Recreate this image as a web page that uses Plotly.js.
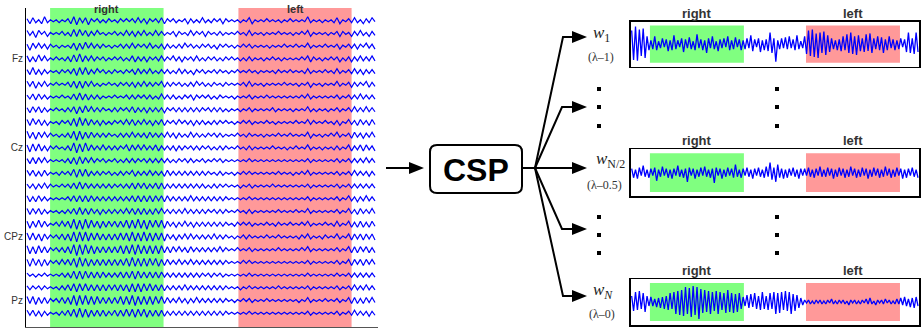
<!DOCTYPE html>
<html>
<head>
<meta charset="utf-8">
<script src="https://cdn.plot.ly/plotly-3.0.1.min.js"></script>
<style>html,body{margin:0;padding:0;background:#fff;}#chart{width:924px;height:330px;}</style>
</head>
<body>
<div id="chart"></div>
<script>
// ---------- DATA ----------
// Left panel: 24 EEG channels (samples, amplitude in µV-like units), top to bottom
const ch01=[2,-3,3,-2,1,-3,4,-2,1,-1,1,-2,1,-1,2,-3,4,-4,3,-2,3,-4,2,-1,2,-2,1,-2,2,-1,1,-2,2,-1,2,-1,2,-2,3,-2,2,-3,2,-1,2,-2,3,-3,2,-1,2,-2,1,-1,2,-3,2,-2,1,-2,3,-2,1,-2,2,-1,2,-3,2,-1,1,-1,1,-2,1,-1,3,-3,1,-1,1,-1,2,-1,1,-1,1,-2,1,-1,2,-1,1,-1,1,-1,4,-2,1,-1,1,-2,1,-1,1,-2,3,-3,1,-1,2,-2,3,-2,1,-3,2,-2,3,-1];
const ch02=[3,-2,2,-4,3,-1,2,-3,1,-1,1,-1,2,-2,1,-3,4,-3,4,-2,3,-3,2,-2,3,-1,1,-2,1,-1,2,-2,1,-2,3,-2,2,-3,2,-2,3,-2,1,-2,3,-2,2,-2,1,-1,2,-3,2,-1,1,-2,3,-2,2,-1,2,-3,2,-1,1,-2,2,-2,1,-1,1,-1,2,-1,1,-2,3,-2,1,-1,1,-2,1,-1,1,-1,2,-1,1,-1,1,-2,1,-1,2,-1,3,-3,1,-1,1,-1,1,-2,1,-1,2,-3,2,-1,1,-3,2,-2,3,-2,1,-3,2,-2];
const ch03=[2,-4,3,-2,3,-2,2,-3,2,-1,1,-2,1,-1,1,-2,3,-4,3,-3,4,-2,3,-2,2,-2,2,-1,1,-2,1,-1,2,-2,2,-2,3,-2,2,-1,2,-2,3,-2,1,-2,2,-3,2,-2,1,-2,2,-2,3,-1,2,-2,1,-2,2,-1,2,-2,1,-3,2,-1,2,-1,1,-2,1,-1,2,-1,2,-2,1,-1,1,-1,1,-2,1,-1,1,-1,2,-1,1,-1,2,-1,1,-1,3,-2,1,-1,1,-1,2,-1,1,-1,2,-3,1,-1,2,-2,2,-3,2,-1,3,-2,2,-3];
const ch04=[3,-3,2,-3,4,-2,3,-2,1,-1,2,-1,1,-2,2,-3,4,-3,5,-3,3,-2,3,-2,2,-1,2,-2,1,-1,2,-1,2,-2,1,-2,3,-3,2,-2,2,-3,2,-1,2,-2,3,-2,2,-1,3,-2,2,-3,2,-1,2,-2,3,-2,1,-2,2,-1,2,-2,1,-2,2,-1,2,-1,1,-2,1,-2,2,-2,1,-1,1,-2,1,-1,2,-1,1,-2,1,-1,1,-1,1,-1,2,-1,3,-3,2,-1,1,-2,1,-1,2,-1,2,-3,1,-2,2,-3,2,-2,3,-2,2,-2,3,-2];
const ch05=[2,-3,4,-3,2,-3,2,-2,1,-1,1,-2,2,-1,2,-2,3,-4,4,-3,4,-3,2,-2,3,-1,2,-2,1,-2,2,-1,1,-2,2,-1,2,-3,3,-2,2,-2,3,-2,1,-2,2,-2,2,-2,1,-2,3,-2,2,-2,1,-3,2,-1,2,-2,1,-1,2,-2,2,-1,1,-2,1,-1,2,-1,1,-1,2,-1,1,-2,1,-1,1,-1,1,-2,2,-1,1,-1,2,-1,1,-1,1,-2,3,-2,1,-1,1,-1,2,-1,1,-2,3,-2,1,-1,2,-2,3,-2,2,-3,2,-2,2,-2];
const ch06=[3,-2,3,-4,2,-2,3,-2,1,-1,2,-1,1,-1,2,-3,3,-4,3,-4,3,-2,3,-2,1,-2,1,-1,2,-1,1,-2,2,-1,2,-2,2,-3,2,-2,3,-2,2,-2,2,-1,3,-3,2,-2,2,-1,2,-2,1,-2,2,-2,3,-1,2,-2,1,-2,2,-1,1,-2,2,-1,1,-1,1,-1,2,-2,3,-2,1,-1,1,-2,1,-1,1,-1,1,-1,2,-1,1,-1,1,-2,1,-1,2,-3,1,-1,1,-2,1,-1,1,-1,3,-2,1,-1,2,-3,2,-2,2,-1,3,-3,2,-2];
const ch07=[2,-2,3,-3,3,-2,2,-2,1,-1,1,-1,2,-1,1,-2,3,-3,4,-3,3,-3,2,-2,2,-2,1,-1,1,-1,2,-1,1,-1,2,-2,2,-2,2,-1,2,-2,2,-2,1,-2,3,-2,2,-2,2,-2,1,-2,2,-1,2,-3,2,-1,2,-1,2,-2,1,-2,2,-1,1,-1,1,-2,1,-1,1,-1,2,-2,1,-1,1,-1,2,-1,1,-1,1,-1,1,-1,1,-1,1,-1,2,-1,3,-2,1,-1,1,-1,1,-1,1,-1,2,-2,1,-1,2,-2,2,-2,3,-2,2,-2,2,-2];
const ch08=[2,-3,3,-2,3,-3,2,-2,1,-1,2,-1,1,-2,2,-2,3,-4,3,-3,4,-2,3,-2,2,-2,2,-1,1,-2,2,-2,2,-1,2,-2,3,-3,2,-2,2,-3,2,-2,2,-2,2,-3,2,-1,2,-2,2,-2,2,-2,2,-2,2,-2,2,-1,2,-2,2,-2,2,-2,1,-2,1,-1,1,-2,1,-1,2,-2,1,-1,1,-1,1,-1,2,-2,1,-1,1,-1,1,-2,1,-1,1,-1,3,-2,1,-2,1,-1,1,-2,1,-1,2,-2,1,-1,2,-2,3,-2,2,-2,3,-2,2,-2];
const ch09=[3,-3,4,-2,3,-3,2,-3,1,-1,1,-2,2,-1,2,-3,4,-4,5,-3,4,-3,3,-2,2,-3,2,-2,1,-2,2,-1,2,-2,3,-2,3,-3,2,-2,3,-2,2,-3,2,-2,3,-3,2,-1,2,-2,3,-1,2,-2,2,-3,2,-2,2,-2,1,-2,2,-2,2,-1,2,-1,1,-2,1,-1,2,-1,2,-2,1,-1,1,-1,2,-1,1,-2,1,-1,1,-1,1,-1,2,-1,1,-1,3,-2,2,-1,1,-1,2,-1,1,-2,2,-3,1,-1,3,-2,2,-3,3,-2,2,-3,3,-2];
const ch10=[4,-3,3,-4,3,-2,3,-2,2,-1,1,-2,1,-2,2,-3,4,-5,4,-4,3,-3,3,-2,2,-2,2,-2,2,-1,1,-2,2,-2,2,-2,3,-2,2,-2,2,-3,3,-2,2,-2,2,-2,3,-2,2,-3,2,-2,1,-2,3,-2,2,-2,1,-2,2,-1,2,-2,2,-2,1,-1,1,-1,2,-1,1,-2,2,-1,1,-1,1,-2,1,-1,1,-1,2,-1,1,-1,2,-1,1,-1,1,-1,3,-3,1,-1,1,-2,1,-1,2,-1,3,-2,1,-1,2,-3,3,-2,2,-3,2,-2,3,-2];
const ch11=[3,-4,4,-3,4,-3,2,-3,2,-1,2,-1,1,-2,2,-3,5,-5,4,-4,5,-3,3,-2,2,-2,3,-2,2,-2,2,-2,2,-1,3,-3,3,-2,3,-2,3,-2,2,-2,3,-3,2,-2,2,-2,2,-3,2,-2,2,-1,2,-2,2,-2,2,-1,2,-2,1,-2,2,-2,2,-1,1,-1,2,-1,1,-2,2,-2,1,-1,1,-1,1,-1,2,-1,1,-1,1,-2,1,-1,2,-1,1,-1,3,-2,1,-1,1,-2,1,-1,1,-2,2,-2,1,-1,3,-3,2,-2,3,-3,3,-2,2,-3];
const ch12=[2,-3,3,-3,3,-2,3,-2,1,-1,1,-1,1,-2,2,-3,3,-4,4,-3,3,-2,3,-2,2,-1,2,-2,1,-1,2,-2,1,-2,2,-2,2,-2,2,-1,2,-2,2,-2,2,-2,2,-2,2,-2,1,-2,2,-1,2,-2,2,-2,1,-1,2,-2,1,-1,2,-1,2,-2,1,-1,1,-1,1,-1,1,-1,2,-1,1,-1,1,-1,1,-1,1,-1,1,-1,1,-1,1,-1,1,-1,1,-1,2,-2,1,-1,1,-1,1,-1,1,-1,2,-2,1,-1,2,-2,2,-2,2,-2,3,-2,2,-2];
const ch13=[3,-2,3,-3,2,-3,3,-2,1,-1,1,-2,2,-1,2,-2,4,-4,4,-3,4,-3,2,-2,2,-2,2,-1,2,-2,1,-2,2,-2,2,-1,3,-3,2,-2,2,-2,3,-2,2,-2,2,-3,3,-2,2,-2,2,-2,2,-2,2,-2,2,-2,2,-2,2,-1,1,-2,2,-2,1,-1,1,-2,1,-1,2,-1,2,-1,1,-1,1,-1,1,-1,1,-1,2,-1,1,-1,1,-2,1,-1,2,-1,3,-2,1,-1,1,-1,1,-1,1,-1,2,-2,1,-1,2,-2,3,-2,2,-2,2,-3,2,-2];
const ch14=[2,-2,2,-3,2,-2,3,-2,2,-1,1,-1,2,-1,2,-2,3,-3,4,-3,3,-2,2,-2,2,-2,2,-2,2,-2,2,-1,2,-2,2,-2,3,-3,3,-2,3,-3,2,-2,3,-3,3,-3,2,-2,2,-2,2,-2,2,-2,2,-2,2,-2,2,-2,1,-2,2,-2,2,-1,2,-1,1,-1,1,-2,1,-1,2,-2,1,-1,1,-1,1,-1,2,-1,1,-1,1,-1,1,-1,1,-1,1,-1,2,-2,1,-1,1,-1,1,-1,1,-1,2,-2,1,-1,2,-2,2,-2,2,-2,2,-2,2,-2];
const ch15=[3,-3,2,-3,3,-2,2,-2,1,-1,1,-1,1,-1,2,-2,3,-3,3,-3,3,-3,3,-2,2,-2,2,-2,2,-2,2,-2,2,-2,2,-2,3,-3,3,-3,3,-3,3,-3,3,-2,3,-3,3,-2,2,-2,2,-2,2,-2,3,-2,2,-2,2,-2,2,-2,2,-2,2,-2,2,-1,1,-1,1,-1,1,-1,2,-1,1,-1,1,-1,1,-1,1,-1,1,-1,1,-1,1,-1,1,-1,1,-1,2,-2,1,-1,1,-1,1,-1,1,-1,2,-2,1,-1,3,-2,2,-3,2,-2,3,-2,2,-2];
const ch16=[3,-3,3,-2,3,-3,2,-2,1,-1,1,-2,1,-2,2,-2,3,-3,4,-3,3,-3,3,-2,2,-3,2,-2,2,-2,2,-2,2,-2,3,-2,3,-3,3,-3,3,-3,2,-3,3,-2,3,-2,2,-2,2,-2,2,-2,3,-2,2,-2,2,-2,2,-2,2,-1,2,-2,2,-2,2,-1,1,-1,2,-1,1,-2,2,-2,1,-1,1,-1,1,-1,1,-1,2,-1,1,-1,1,-1,2,-1,1,-1,3,-2,1,-1,1,-1,1,-1,1,-1,2,-2,1,-1,3,-2,2,-3,3,-2,2,-2,3,-2];
const ch17=[3,-4,3,-3,4,-3,3,-2,1,-1,2,-2,3,-2,3,-4,5,-5,4,-5,5,-4,4,-3,3,-4,3,-3,3,-2,3,-3,3,-3,4,-4,4,-4,5,-4,4,-5,4,-3,4,-3,4,-4,3,-2,2,-3,2,-2,3,-2,2,-3,2,-2,2,-2,2,-2,2,-2,2,-2,2,-1,1,-2,2,-1,2,-1,2,-2,1,-1,1,-1,2,-1,1,-2,2,-1,1,-1,2,-1,1,-1,2,-1,3,-2,1,-1,1,-1,2,-1,1,-2,3,-2,1,-1,3,-3,2,-3,3,-3,2,-3,3,-2];
const ch18=[4,-3,4,-3,3,-4,3,-2,2,-1,2,-2,3,-3,3,-4,5,-5,5,-4,5,-4,4,-3,4,-3,3,-3,3,-3,3,-3,4,-3,4,-4,5,-4,4,-4,5,-4,4,-4,4,-3,4,-4,3,-2,2,-3,2,-2,3,-2,3,-2,2,-2,2,-2,2,-2,3,-2,2,-2,2,-1,1,-2,1,-1,2,-2,2,-1,1,-1,1,-1,2,-1,1,-1,2,-1,1,-1,1,-1,1,-2,2,-1,3,-2,1,-1,1,-2,2,-1,1,-1,3,-2,1,-1,3,-3,3,-2,3,-3,3,-2,3,-3];
const ch19=[4,-4,3,-4,4,-3,3,-3,2,-1,2,-2,2,-3,3,-4,5,-6,5,-5,5,-4,4,-4,3,-3,3,-3,3,-3,3,-3,4,-4,4,-4,5,-5,5,-4,4,-4,4,-4,4,-4,4,-3,3,-3,3,-2,3,-2,2,-3,3,-2,2,-2,2,-2,2,-2,2,-2,3,-2,2,-1,1,-1,2,-1,1,-1,2,-2,1,-1,1,-1,1,-1,1,-1,2,-1,1,-1,1,-1,1,-1,2,-1,3,-2,1,-1,1,-1,1,-1,1,-1,2,-2,1,-1,3,-3,3,-3,3,-2,3,-3,2,-3];
const ch20=[3,-4,4,-3,3,-4,3,-3,2,-1,2,-2,3,-2,3,-3,4,-5,5,-4,4,-4,3,-3,3,-3,3,-3,3,-3,3,-3,3,-3,4,-4,5,-4,4,-4,4,-4,4,-3,4,-4,3,-3,3,-2,2,-2,3,-2,2,-2,3,-2,2,-2,2,-2,2,-2,2,-2,2,-2,2,-1,1,-1,1,-1,2,-1,2,-1,1,-1,1,-1,1,-1,1,-1,1,-1,1,-1,1,-1,1,-1,1,-1,2,-2,1,-1,1,-1,1,-1,1,-1,2,-2,1,-1,3,-3,3,-2,3,-3,3,-2,3,-2];
const ch21=[2,-1,1,-2,1,-1,2,-1,1,-1,1,-1,2,-2,2,-3,4,-4,4,-4,4,-3,3,-3,3,-3,3,-2,2,-2,2,-2,3,-3,3,-3,4,-4,4,-3,3,-3,3,-3,3,-3,3,-2,2,-2,2,-2,2,-2,2,-2,2,-2,2,-2,2,-1,2,-2,2,-1,2,-2,1,-1,1,-1,1,-1,1,-1,2,-1,1,-1,1,-1,1,-1,1,-1,1,-1,1,-1,1,-1,1,-1,1,-1,2,-1,1,-1,1,-1,1,-1,1,-1,2,-1,1,-1,2,-2,2,-2,2,-2,2,-2,2,-2];
const ch22=[2,-2,2,-1,2,-2,2,-1,1,-1,1,-2,2,-2,3,-3,4,-4,4,-3,4,-3,3,-3,3,-3,3,-3,3,-2,3,-3,3,-3,3,-4,4,-4,4,-4,4,-3,4,-3,3,-3,3,-3,2,-2,2,-2,2,-2,3,-2,2,-2,2,-2,2,-2,2,-2,2,-2,2,-2,2,-1,1,-1,1,-2,1,-1,2,-1,1,-1,1,-1,1,-1,1,-1,2,-1,1,-1,1,-1,1,-1,1,-1,2,-2,1,-1,1,-1,1,-1,1,-1,2,-2,1,-1,2,-2,3,-2,2,-2,3,-2,2,-2];
const ch23=[4,-3,4,-4,3,-3,3,-3,2,-1,2,-2,3,-3,3,-4,5,-5,5,-4,5,-4,4,-4,4,-3,3,-3,3,-3,3,-3,4,-4,4,-4,5,-5,4,-4,4,-4,4,-4,4,-3,4,-3,3,-2,2,-2,3,-2,2,-3,2,-2,3,-2,2,-2,2,-2,2,-2,2,-2,2,-1,1,-2,1,-1,2,-1,2,-2,1,-1,1,-1,2,-1,1,-1,1,-1,1,-1,1,-1,1,-2,1,-1,3,-2,1,-1,1,-1,2,-1,1,-1,2,-2,1,-1,3,-3,3,-3,2,-3,3,-2,3,-2];
const ch24=[3,-2,3,-3,2,-3,2,-2,1,-1,1,-2,2,-2,3,-3,4,-4,5,-4,4,-4,3,-3,3,-3,3,-3,2,-2,3,-3,3,-3,4,-3,4,-4,4,-3,4,-4,3,-3,3,-3,3,-3,2,-2,2,-2,2,-2,2,-2,2,-2,2,-2,2,-2,2,-2,2,-2,2,-2,2,-1,1,-1,1,-1,1,-1,2,-1,1,-1,1,-1,1,-1,1,-1,1,-1,1,-1,1,-1,1,-1,1,-1,2,-2,1,-1,1,-1,1,-1,1,-1,2,-2,1,-1,2,-2,3,-2,2,-2,2,-3,2,-2];
const eegChannels=[ch01,ch02,ch03,ch04,ch05,ch06,ch07,ch08,ch09,ch10,ch11,ch12,ch13,ch14,ch15,ch16,ch17,ch18,ch19,ch20,ch21,ch22,ch23,ch24];
const channelTickRows=[3,10,17,22];
const channelTickLabels=['Fz','Cz','CPz','Pz'];
// task windows (in sample index) for the EEG panel
const eegRightWindow=[7.9,46.7];
const eegLeftWindow=[72.3,111.0];

// Right panels: CSP-filtered signals
const cspW1=[14,-16,18,-17,15,-12,16,-14,8,-6,4,-5,8,-6,3,-4,6,-3,5,-7,4,-6,9,-5,4,-3,6,-8,5,-4,7,-5,3,-6,10,-4,5,-6,4,-9,6,-4,8,-5,3,-7,5,-4,6,-3,8,-6,4,-5,7,-3,5,-6,4,-5,6,-4,9,-7,5,-3,6,-8,4,-6,5,-7,12,-9,6,-18,4,-5,6,-4,7,-5,8,-4,5,-6,9,-5,3,-4,8,-10,14,-12,15,-13,11,-14,12,-9,13,-11,9,-8,6,-5,4,-6,5,-7,8,-6,10,-9,12,-10,8,-11,9,-7,6,-8,10,-7,11,-9,6,-5,8,-6,7,-9,5,-6,8,-4,5,-6,4,-5,6,-3,5,-8,12,-9,6,-10,12,-8];
const cspWHalf=[4,-5,3,-6,5,-3,7,-4,3,-5,4,-3,5,-8,3,-4,6,-3,4,-5,3,-6,4,-3,7,-4,3,-5,4,-9,5,-3,4,-6,3,-4,5,-3,6,-4,3,-5,4,-10,5,-3,4,-6,3,-4,5,-3,4,-5,8,-4,3,-5,4,-3,5,-4,3,-6,4,-3,5,-4,3,-5,6,-4,10,-7,5,-9,8,-5,4,-6,3,-5,4,-3,5,-4,3,-6,4,-3,4,-3,5,-4,3,-5,4,-3,6,-4,3,-4,5,-3,4,-6,3,-4,5,-3,4,-5,3,-4,6,-3,4,-5,3,-4,5,-3,4,-6,3,-4,5,-3,4,-5,3,-4,6,-3,4,-5,3,-4,5,-3,4,-6,3,-5,4,-3,5,-4,3,-5];
const cspWN=[6,-9,10,-8,11,-7,9,-10,6,-4,5,-4,3,-5,4,-6,5,-7,6,-8,9,-7,10,-12,11,-13,12,-14,15,-12,14,-15,16,-13,15,-17,13,-11,12,-10,11,-12,10,-9,11,-12,10,-8,9,-11,12,-10,9,-11,8,-10,9,-7,5,-4,7,-6,8,-5,9,-7,6,-8,10,-7,6,-8,9,-7,10,-12,9,-11,10,-8,11,-9,10,-12,8,-9,7,-6,4,-3,2,-1,2,-2,1,-2,2,-1,2,-2,1,-2,2,-1,3,-2,1,-2,2,-1,2,-2,1,-3,2,-1,2,-2,1,-2,2,-1,3,-2,4,-2,1,-3,2,-1,2,-2,3,-1,2,-2,1,-2,3,-2,4,-3,5,-4,3,-5,4,-6,5,-4];
const cspSignals=[cspW1,cspWHalf,cspWN];
const cspRightWindow=[9.5,58.4];
const cspLeftWindow=[90.7,139.6];
const windowLabels=['right','left'];
const filterLabels=['<i>w</i><sub>1</sub>','<i>w</i><sub>N/2</sub>','<i>w<sub>N</sub></i>'];
const lambdaLabels=['(λ–1)','(λ–0.5)','(λ–0)'];

// ---------- BUILD ----------
const W=924,H=330;
const X=p=>p/W, Y=p=>1-p/H;
const blue='#0000ff';
const traces=[];
const eegGain=1.0/12.72;
eegChannels.forEach((vals,k)=>{
  traces.push({type:'scatter',mode:'lines',x:vals.map((_,i)=>i),y:vals.map(v=>k-v*eegGain),
    xaxis:'x',yaxis:'y',line:{color:blue,width:1.2},hoverinfo:'skip'});
});
cspSignals.forEach((vals,j)=>{
  const n=j+2;
  traces.push({type:'scatter',mode:'lines',x:vals.map((_,i)=>i),y:vals,
    xaxis:'x'+n,yaxis:'y'+n,line:{color:blue,width:1.3},hoverinfo:'skip'});
});

const panelTops=[21.7,149.3,279];
const panelBots=[66.7,196,325];

const layout={
  width:W,height:H,margin:{l:0,r:0,t:0,b:0},paper_bgcolor:'#fff',plot_bgcolor:'rgba(0,0,0,0)',
  showlegend:false,
  xaxis:{domain:[X(26),X(378)],range:[-0.342,120.03],showline:true,linecolor:'#555',linewidth:1,
    showgrid:false,zeroline:false,showticklabels:false,ticks:''},
  yaxis:{domain:[Y(327),Y(8)],range:[24.08,-1.0],showline:true,linecolor:'#000',linewidth:1,
    showgrid:false,zeroline:false,ticks:'',tickvals:channelTickRows,ticktext:channelTickLabels,
    tickfont:{family:'Liberation Sans, Arial, sans-serif',size:10,color:'#333'}},
  shapes:[],annotations:[]
};
for(let j=0;j<3;j++){
  const n=j+2;
  layout['xaxis'+n]={domain:[X(630.7),X(919)],range:[-0.5,149.5],anchor:'y'+n,showline:true,mirror:true,
    linecolor:'#000',linewidth:1.5,showgrid:false,zeroline:false,showticklabels:false,ticks:''};
  layout['yaxis'+n]={domain:[Y(panelBots[j]),Y(panelTops[j])],range:[-23,23],anchor:'x'+n,showline:true,mirror:true,
    linecolor:'#000',linewidth:1.5,showgrid:false,zeroline:false,showticklabels:false,ticks:''};
}
const green='#80ff80', red='#ff9999';
// EEG windows
layout.shapes.push({type:'rect',xref:'x',yref:'y domain',x0:eegRightWindow[0],x1:eegRightWindow[1],y0:0,y1:1,fillcolor:green,line:{width:0},layer:'below'});
layout.shapes.push({type:'rect',xref:'x',yref:'y domain',x0:eegLeftWindow[0],x1:eegLeftWindow[1],y0:0,y1:1,fillcolor:red,line:{width:0},layer:'below'});
const lblFont={family:'Liberation Sans, Arial, sans-serif',size:11,color:'#333',weight:'bold'};
const midR=(eegRightWindow[0]+eegRightWindow[1])/2, midL=(eegLeftWindow[0]+eegLeftWindow[1])/2;
layout.annotations.push({xref:'x',yref:'paper',x:midR,y:Y(8.5),text:'<b>'+windowLabels[0]+'</b>',showarrow:false,font:lblFont,xanchor:'center',yanchor:'middle'});
layout.annotations.push({xref:'x',yref:'paper',x:midL,y:Y(8.5),text:'<b>'+windowLabels[1]+'</b>',showarrow:false,font:lblFont,xanchor:'center',yanchor:'middle'});
// CSP panels windows + labels
const lblFont2={family:'Liberation Sans, Arial, sans-serif',size:13,color:'#333'};
for(let j=0;j<3;j++){
  const n=j+2;
  layout.shapes.push({type:'rect',xref:'x'+n,yref:'y'+n,x0:cspRightWindow[0],x1:cspRightWindow[1],y0:-19,y1:19,fillcolor:green,line:{width:0},layer:'below'});
  layout.shapes.push({type:'rect',xref:'x'+n,yref:'y'+n,x0:cspLeftWindow[0],x1:cspLeftWindow[1],y0:-19,y1:19,fillcolor:red,line:{width:0},layer:'below'});
  const ly=Y(panelTops[j]-8.5);
  layout.annotations.push({xref:'x'+n,yref:'paper',x:(cspRightWindow[0]+cspRightWindow[1])/2,y:ly,text:'<b>'+windowLabels[0]+'</b>',showarrow:false,font:lblFont2,xanchor:'center',yanchor:'middle'});
  layout.annotations.push({xref:'x'+n,yref:'paper',x:(cspLeftWindow[0]+cspLeftWindow[1])/2,y:ly,text:'<b>'+windowLabels[1]+'</b>',showarrow:false,font:lblFont2,xanchor:'center',yanchor:'middle'});
}
// CSP box (rounded)
const P=(x,y)=>X(x).toFixed(5)+','+Y(y).toFixed(5);
const bx0=430,bx1=522,by0=145,by1=193,r=7;
layout.shapes.push({type:'path',xref:'paper',yref:'paper',line:{color:'#000',width:2},
  path:'M'+P(bx0+r,by0)+' L'+P(bx1-r,by0)+' Q'+P(bx1,by0)+' '+P(bx1,by0+r)+' L'+P(bx1,by1-r)+' Q'+P(bx1,by1)+' '+P(bx1-r,by1)+
       ' L'+P(bx0+r,by1)+' Q'+P(bx0,by1)+' '+P(bx0,by1-r)+' L'+P(bx0,by0+r)+' Q'+P(bx0,by0)+' '+P(bx0+r,by0)+' Z'});
layout.annotations.push({xref:'paper',yref:'paper',x:X(476),y:Y(170),text:'<b>CSP</b>',showarrow:false,
  font:{family:'Liberation Sans, Arial, sans-serif',size:32,color:'#000'},xanchor:'center',yanchor:'middle'});
// arrows
function line(pts){layout.shapes.push({type:'path',xref:'paper',yref:'paper',line:{color:'#000',width:2},
  path:pts.map((p,i)=>(i?'L':'M')+P(p[0],p[1])).join(' ')});}
function head(tx,ty){layout.shapes.push({type:'path',xref:'paper',yref:'paper',line:{width:0},fillcolor:'#000',
  path:'M'+P(tx,ty)+' L'+P(tx-15,ty-6)+' L'+P(tx-15,ty+6)+' Z'});}
line([[386,168],[410,168]]); head(424,168);
line([[522,168],[574,168]]); head(587,168);
[[37,563],[107,562],[229,562],[296,563]].forEach(b=>{line([[535,168],[b[1],b[0]],[574,b[0]]]); head(587,b[0]);});
// dots
[[599,89],[599,107],[599,126],[599,217],[599,235],[599,253],[777,89],[777,107],[777,126],[777,217],[777,235],[777,253]].forEach(d=>{
  layout.shapes.push({type:'rect',xref:'paper',yref:'paper',x0:X(d[0]-2),x1:X(d[0]+2),y0:Y(d[1]+2),y1:Y(d[1]-2),fillcolor:'#000',line:{width:0}});
});
// filter labels
const wPos=[[601,34],[610,160],[603,291]];
const lPos=[[601,57],[604,185],[602,314]];
for(let j=0;j<3;j++){
  layout.annotations.push({xref:'paper',yref:'paper',x:X(wPos[j][0]),y:Y(wPos[j][1]),text:filterLabels[j],showarrow:false,
    font:{family:'Liberation Serif, Times New Roman, serif',size:17,color:'#222'},xanchor:'center',yanchor:'middle'});
  layout.annotations.push({xref:'paper',yref:'paper',x:X(lPos[j][0]),y:Y(lPos[j][1]),text:lambdaLabels[j],showarrow:false,
    font:{family:'Liberation Serif, Times New Roman, serif',size:12,color:'#333'},xanchor:'center',yanchor:'middle'});
}
Plotly.newPlot('chart',traces,layout,{staticPlot:true,displayModeBar:false});
</script>
</body>
</html>
